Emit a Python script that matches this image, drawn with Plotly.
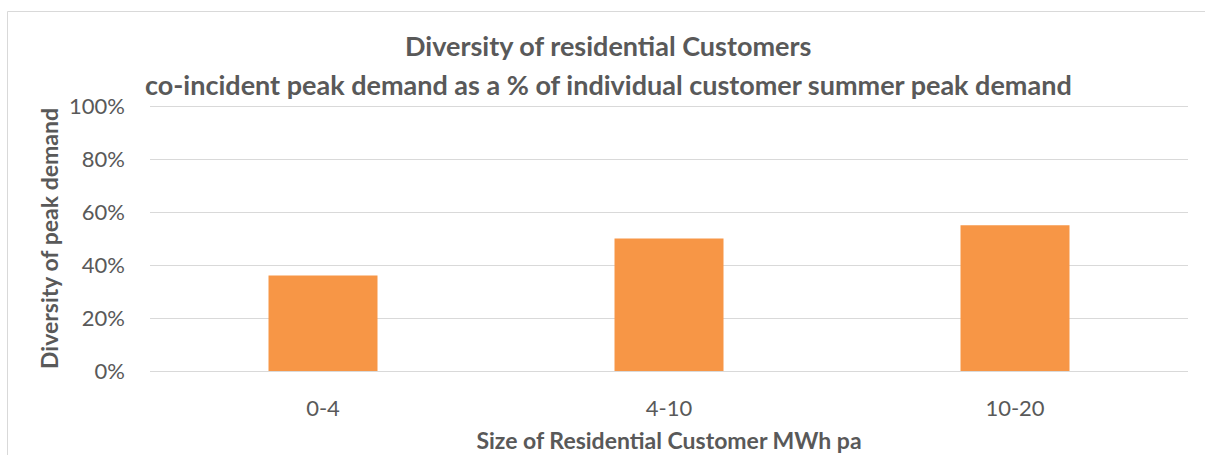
import plotly.graph_objects as go

# Customer size bands (MWh per annum) and co-incident peak diversity
categories = ["0-4", "4-10", "10-20"]
diversity = [0.36, 0.50, 0.55]

title_line1 = "Diversity of residential Customers"
title_line2 = "co-incident peak demand as a % of individual customer summer peak demand"
x_title = "Size of Residential Customer MWh pa"
y_title = "Diversity of peak demand"

bar_color = "#F79646"
text_color = "#595959"
grid_color = "#D9D9D9"
font_family = "Lato, 'Open Sans', sans-serif"

fig = go.Figure(
    go.Bar(
        x=categories,
        y=diversity,
        marker=dict(color=bar_color, line=dict(width=0)),
        width=0.315,
    )
)

W, H = 1205, 455
# Value axis spans 0%..100% over 265px; a few pixels of padding keep the
# 0% and 100% gridlines inside the plot area so both are drawn.
pad_px = 3
span_px = 265
pad = pad_px / span_px
L, R, T, B = 150, 17, 106 - pad_px, 84 - pad_px
plot_w = W - L - R
plot_h = H - T - B

fig.update_layout(
    width=W,
    height=H,
    margin=dict(l=L, r=R, t=T, b=B),
    paper_bgcolor="white",
    plot_bgcolor="white",
    showlegend=False,
    font=dict(family=font_family, color=text_color, size=22),
)

fig.update_yaxes(
    range=[-pad, 1.0 + pad],
    tickvals=[0, 0.2, 0.4, 0.6, 0.8, 1.0],
    tickformat=".0%",
    showgrid=True,
    gridcolor=grid_color,
    gridwidth=1,
    zeroline=False,
    showline=False,
    ticks="",
    ticklabelstandoff=24,
    tickfont=dict(size=22, color=text_color),
    automargin=False,
    title=dict(text=f"<b>{y_title}</b>", font=dict(size=23, color=text_color), standoff=4),
)

fig.update_xaxes(
    showgrid=False,
    showline=False,
    ticks="",
    ticklabelstandoff=19,
    tickfont=dict(size=22, color=text_color),
    automargin=False,
    title=dict(text=f"<b>{x_title}</b>", font=dict(size=23, color=text_color), standoff=12),
)


def px_to_paper_x(px):
    return (px - L) / plot_w


def px_to_paper_y(py):
    return (H - B - py) / plot_h


# Two-line centred chart title
for text, py in [(title_line1, 45), (title_line2, 84)]:
    fig.add_annotation(
        text=f"<b>{text}</b>",
        x=px_to_paper_x(608),
        y=px_to_paper_y(py),
        xref="paper",
        yref="paper",
        xanchor="center",
        yanchor="middle",
        showarrow=False,
        font=dict(size=27, color=text_color, family=font_family),
    )

# Thin chart-area border along the top and left
border = dict(color="#D9D9D9", width=1)
fig.add_shape(type="line", xref="paper", yref="paper",
              x0=px_to_paper_x(7.5), x1=px_to_paper_x(W), y0=px_to_paper_y(11.5), y1=px_to_paper_y(11.5),
              line=border)
fig.add_shape(type="line", xref="paper", yref="paper",
              x0=px_to_paper_x(7.5), x1=px_to_paper_x(7.5), y0=px_to_paper_y(11.5), y1=px_to_paper_y(H),
              line=border)

fig.write_html("out.html")
